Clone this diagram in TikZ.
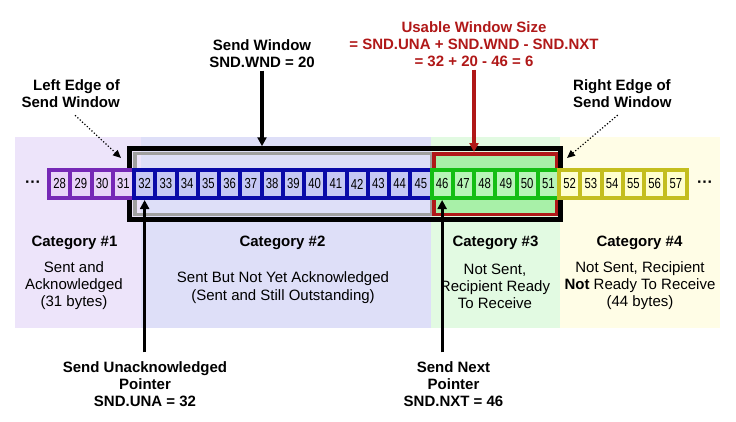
\documentclass[tikz,border=0pt]{standalone}
\usepackage{fontspec}
\setmainfont{Liberation Sans}
\newfontfamily\numfont[FakeStretch=0.78]{Liberation Sans}
\usetikzlibrary{arrows.meta}
% category backgrounds
\definecolor{bgA}{RGB}{237,228,250}
\definecolor{bgB}{RGB}{222,223,248}
\definecolor{bgC}{RGB}{226,250,226}
\definecolor{bgD}{RGB}{255,253,230}
% cells
\definecolor{lineA}{RGB}{118,40,182}
\definecolor{fillA}{RGB}{232,212,248}
\definecolor{lineB}{RGB}{10,10,168}
\definecolor{fillB}{RGB}{198,200,244}
\definecolor{lineC}{RGB}{20,190,20}
\definecolor{fillC}{RGB}{184,246,184}
\definecolor{lineD}{RGB}{196,190,30}
\definecolor{fillD}{RGB}{255,255,206}
% windows
\definecolor{usered}{RGB}{176,24,24}
\definecolor{usefill}{RGB}{168,240,168}
\definecolor{wingrey}{RGB}{160,160,160}
\tikzset{
  cell/.style={draw, line width=4pt, minimum width=21.25pt, minimum height=28pt, inner sep=0pt, font=\numfont\fontsize{14.5}{15}\selectfont},
  lbl/.style={font=\fontsize{15}{17}\selectfont\bfseries, align=center, inner sep=3pt},
  txt/.style={font=\fontsize{15}{17}\selectfont, align=center, inner sep=0pt},
  ptr/.style={line width=3.2pt, -{Triangle[length=9pt,width=9pt]}},
  edgeptr/.style={dotted, line width=1.2pt, -{Triangle[length=8pt,width=7pt]}},
}
\begin{document}
\begin{tikzpicture}[x=1pt,y=1pt,yscale=-1,xscale=1]
	\useasboundingbox (0,0) rectangle (736,421);
	% Category backgrounds
	\fill[bgA] (15,137) rectangle (141,328);
	\fill[bgB] (141,137) rectangle (431,328);
	\fill[bgC] (431,137) rectangle (560,328);
	\fill[bgD] (560,137) rectangle (720,328);
	
	% Send window, sent part, usable part
	\node[draw=black, line width=4.5pt, minimum width=431pt, minimum height=71pt, inner sep=0pt] (sndwin) at (345,184) {};
	\node[draw=wingrey, line width=3.5pt, minimum width=297pt, minimum height=61pt, inner sep=0pt] (sentwin) at (283.5,184) {};
	\node[draw=usered, fill=usefill, line width=3.5pt, minimum width=122.5pt, minimum height=60.5pt, inner sep=0pt] (redwin) at (495,184) {};
	
	% Byte cells
	\foreach \n in {28,...,31}
		\node[cell, draw=lineA, fill=fillA] (c\n) at ({59.625+(\n-28)*21.25},184) {\n};
	\foreach \n in {32,...,45}
		\node[cell, draw=lineB, fill=fillB] (c\n) at ({59.625+(\n-28)*21.25},184) {\n};
	\foreach \n in {46,...,51}
		\node[cell, draw=lineC, fill=fillC] (c\n) at ({59.625+(\n-28)*21.25},184) {\n};
	\foreach \n in {52,...,57}
		\node[cell, draw=lineD, fill=fillD] (c\n) at ({59.625+(\n-28)*21.25},184) {\n};
	\node[font=\fontsize{16}{16}\selectfont\bfseries] (ldots) at (33,184) {···};
	\node[font=\fontsize{16}{16}\selectfont\bfseries] (rdots) at (705,184) {···};
	
	% Text Node
	\node[lbl] (wndlbl) at (262,53.5) {Send Window\\SND.WND = 20};
	\draw[ptr] (wndlbl.south) -- (wndlbl.south |- sndwin.north);
	% Text Node
	\node[lbl, text=usered] (uselbl) at (474,44) {Usable Window Size\\= SND.UNA + SND.WND - SND.NXT\\= 32 + 20 - 46 = 6};
	\draw[ptr, draw=usered, fill=usered] (uselbl.south) -- (uselbl.south |- redwin.north);
	% Text Node
	\node[lbl, align=right, anchor=east] (leftlbl) at (123,94) {Left Edge of\\Send Window};
	\coordinate (leftend) at (121,158);
	\draw[edgeptr, shorten <=6pt] (leftlbl.south) -- (leftend);
	% Text Node
	\node[lbl, align=left, anchor=west] (rightlbl) at (570,94) {Right Edge of\\Send Window};
	\coordinate (rightend) at (567,158);
	\draw[edgeptr, shorten <=6pt] (rightlbl.south) -- (rightend);
	
	% Category texts
	\node[lbl] (cat1) at (74.5,243) {Category \#1};
	\node[txt] (cat1txt) at (74,286) {Sent and\\Acknowledged\\(31 bytes)};
	\node[lbl] (cat2) at (282.5,243) {Category \#2};
	\node[txt, font=\fontsize{15}{18}\selectfont] (cat2txt) at (283,288) {Sent But Not Yet Acknowledged\\(Sent and Still Outstanding)};
	\node[lbl] (cat3) at (495.5,243) {Category \#3};
	\node[txt] (cat3txt) at (495,286) {Not Sent,\\Recipient Ready\\To Receive};
	\node[lbl] (cat4) at (639.5,243) {Category \#4};
	\node[txt] (cat4txt) at (640,286) {Not Sent, Recipient\\\textbf{Not} Ready To Receive\\(44 bytes)};
	
	% Pointers
	\node[lbl, outer sep=6pt] (unalbl) at (145,384) {Send Unacknowledged\\Pointer\\SND.UNA = 32};
	\draw[ptr] (unalbl.north -| c32) -- (c32.south);
	\node[lbl, outer sep=6pt] (nxtlbl) at (453.5,384) {Send Next\\Pointer\\SND.NXT = 46};
	\draw[ptr] (nxtlbl.north -| c46) -- (c46.south);
\end{tikzpicture}
\end{document}
